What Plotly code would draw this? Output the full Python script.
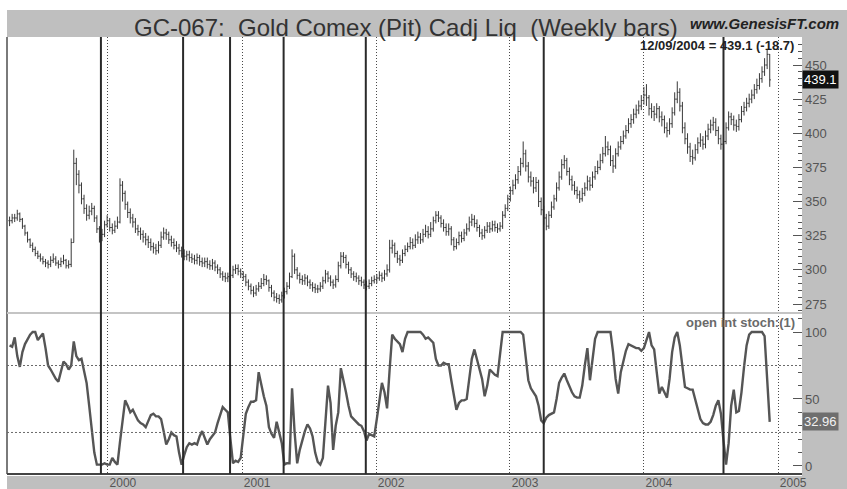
import pandas as pd
import plotly.graph_objects as go
from plotly.subplots import make_subplots

# ---------------- data ----------------
last_date = "2004-12-09"

price_high = [
    339, 341, 341, 344, 342, 338, 333, 328, 323, 320,
    317, 314, 312, 310, 308, 307, 310, 312, 310, 307,
    309, 311, 308, 307, 323, 388, 382, 373, 364, 355,
    348, 347, 349, 347, 340, 332, 330, 336, 340, 338,
    334, 336, 339, 367, 365, 358, 350, 345, 341, 338,
    333, 331, 329, 327, 325, 323, 320, 319, 321, 328,
    331, 330, 328, 325, 323, 321, 319, 317, 315, 314,
    314, 312, 311, 312, 311, 309, 309, 309, 307, 308,
    307, 304, 302, 299, 298, 298, 299, 303, 304, 304,
    301, 299, 297, 293, 290, 288, 289, 291, 294, 297,
    296, 293, 289, 285, 283, 282, 284, 287, 291, 298,
    315, 312, 302, 298, 296, 297, 296, 293, 291, 290,
    289, 291, 295, 300, 299, 296, 293, 296, 306, 313,
    313, 311, 306, 302, 299, 298, 296, 295, 293, 292,
    293, 295, 296, 297, 299, 298, 300, 304, 322, 322,
    320, 314, 311, 315, 318, 320, 324, 323, 326, 328,
    327, 330, 333, 332, 335, 339, 343, 343, 340, 337,
    334, 334, 332, 324, 323, 328, 328, 330, 334, 339,
    341, 340, 337, 333, 330, 332, 335, 335, 336, 336,
    334, 335, 343, 348, 355, 361, 366, 370, 376, 382,
    394, 388, 379, 372, 368, 368, 366, 353, 347, 341,
    343, 350, 355, 364, 372, 381, 384, 382, 375, 369,
    365, 361, 358, 360, 364, 369, 368, 372, 376, 380,
    385, 390, 398, 394, 391, 384, 389, 394, 398, 402,
    406, 411, 414, 418, 421, 424, 428, 434, 436, 428,
    422, 420, 422, 420, 416, 413, 408, 411, 419, 430,
    438, 433, 423, 408, 400, 393, 388, 392, 397, 400,
    398, 402, 407, 410, 412, 411, 405, 399, 398, 408,
    416, 415, 413, 410, 414, 420, 423, 426, 429, 432,
    436, 440, 444, 449, 455, 461, 458,
]

price_low = [
    332, 334, 335, 336, 335, 330, 325, 320, 316, 313,
    310, 308, 306, 304, 302, 301, 302, 305, 303, 301,
    302, 304, 301, 301, 302, 320, 362, 356, 348, 341,
    336, 337, 340, 335, 327, 320, 321, 324, 331, 328,
    326, 327, 330, 334, 350, 344, 338, 334, 331, 327,
    325, 322, 320, 318, 316, 314, 312, 311, 312, 316,
    322, 322, 319, 317, 315, 313, 311, 309, 307, 307,
    306, 305, 304, 304, 303, 302, 302, 301, 300, 300,
    299, 297, 294, 292, 291, 291, 292, 294, 297, 296,
    294, 292, 288, 285, 282, 280, 281, 284, 286, 288,
    289, 284, 280, 277, 276, 275, 276, 279, 282, 286,
    294, 297, 293, 290, 289, 289, 288, 286, 284, 283,
    283, 284, 286, 290, 291, 288, 286, 287, 291, 301,
    305, 301, 297, 294, 292, 291, 289, 288, 286, 285,
    286, 288, 290, 290, 292, 291, 292, 295, 298, 312,
    309, 305, 303, 305, 310, 313, 315, 315, 316, 319,
    319, 320, 324, 323, 324, 328, 334, 335, 331, 328,
    325, 325, 318, 314, 315, 318, 320, 321, 325, 328,
    332, 331, 328, 324, 322, 323, 327, 327, 328, 328,
    327, 328, 330, 338, 343, 350, 355, 359, 363, 369,
    375, 372, 364, 361, 356, 357, 346, 340, 333, 329,
    330, 338, 344, 350, 358, 366, 374, 369, 362, 358,
    355, 352, 349, 350, 354, 358, 358, 360, 366, 370,
    373, 378, 383, 384, 376, 371, 374, 383, 388, 392,
    396, 400, 404, 407, 411, 414, 417, 421, 420, 413,
    411, 409, 411, 408, 405, 400, 397, 399, 404, 413,
    422, 416, 400, 392, 385, 379, 377, 380, 385, 390,
    388, 389, 395, 400, 402, 398, 392, 388, 389, 392,
    402, 406, 402, 401, 402, 408, 413, 416, 419, 422,
    425, 429, 432, 437, 442, 447, 434,
]

price_close = [
    336, 338, 338, 341, 337, 332, 327, 322, 318, 315,
    312, 310, 308, 306, 305, 304, 307, 308, 305, 304,
    306, 307, 303, 304, 320, 378, 370, 362, 352, 345,
    340, 343, 345, 338, 330, 324, 326, 333, 336, 331,
    329, 332, 335, 362, 356, 348, 342, 338, 335, 330,
    328, 326, 324, 322, 320, 317, 316, 314, 318, 324,
    327, 326, 322, 320, 318, 316, 314, 312, 310, 311,
    309, 308, 307, 309, 306, 305, 306, 304, 303, 305,
    302, 300, 297, 295, 294, 295, 296, 300, 301, 299,
    297, 295, 291, 288, 285, 283, 286, 288, 290, 293,
    292, 287, 283, 280, 279, 278, 281, 284, 288, 295,
    310, 300, 296, 293, 292, 294, 291, 289, 287, 286,
    286, 288, 292, 297, 294, 291, 289, 293, 303, 310,
    309, 304, 300, 297, 295, 294, 292, 291, 289, 288,
    290, 292, 293, 294, 296, 294, 297, 300, 316, 318,
    312, 308, 307, 312, 315, 317, 320, 318, 322, 324,
    322, 326, 328, 326, 330, 336, 340, 338, 334, 331,
    328, 330, 322, 317, 320, 325, 323, 327, 330, 335,
    337, 334, 331, 327, 325, 329, 332, 330, 333, 331,
    330, 332, 340, 345, 352, 358, 362, 366, 372, 378,
    385, 376, 368, 365, 360, 364, 350, 344, 338, 332,
    340, 346, 352, 360, 368, 377, 380, 372, 366, 362,
    358, 355, 352, 356, 360, 365, 362, 368, 372, 375,
    380, 385, 390, 388, 380, 376, 385, 390, 394, 398,
    402, 407, 410, 414, 417, 420, 424, 428, 426, 418,
    416, 414, 418, 412, 410, 404, 402, 407, 415, 425,
    430, 420, 404, 396, 390, 383, 382, 388, 393, 395,
    392, 398, 403, 406, 408, 402, 396, 392, 394, 404,
    412, 410, 406, 405, 410, 416, 419, 422, 425, 428,
    432, 435, 440, 445, 450, 457.8, 439.1,
]

stoch = [
    90, 89, 96, 82, 74, 85, 91, 95, 98, 100,
    100, 94, 97, 99, 88, 75, 72, 68, 65, 63,
    70, 78, 76, 72, 75, 93, 82, 79, 80, 72,
    62, 45, 25, 10, 1, 1, 1, 2, 1, 1,
    6, 3, 1, 18, 34, 49, 45, 40, 42, 38,
    34, 32, 31, 29, 33, 38, 39, 37, 37, 35,
    26, 16, 20, 25, 23, 22, 10, 1, 8, 14,
    17, 16, 17, 16, 22, 26, 21, 16, 20, 23,
    25, 32, 38, 44, 42, 40, 20, 2, 4, 3,
    6, 25, 39, 44, 48, 48, 49, 70, 60, 52,
    45, 29, 24, 21, 33, 25, 17, 1, 2, 2,
    58, 25, 2, 12, 20, 26, 31, 28, 22, 10,
    3, 1, 6, 35, 60, 47, 12, 30, 40, 73,
    65, 55, 45, 37, 35, 33, 31, 30, 26, 19,
    24, 23, 22, 35, 50, 62, 55, 43, 72, 98,
    95, 93, 91, 85, 95, 100, 100, 100, 100, 100,
    100, 98, 95, 96, 94, 92, 80, 75, 75, 77,
    76, 76, 64, 52, 42, 47, 49, 49, 50, 65,
    80, 87, 80, 74, 65, 52, 60, 72, 70, 68,
    67, 85, 100, 100, 100, 100, 100, 100, 100, 100,
    98, 82, 64, 58, 55, 52, 45, 34, 32, 36,
    38, 39, 40, 50, 62, 66, 69, 64, 59, 55,
    52, 51, 51, 60, 75, 88, 64, 80, 95, 100,
    100, 100, 100, 100, 100, 85, 65, 54, 70, 78,
    86, 91, 90, 89, 88, 88, 86, 88, 95, 100,
    90, 87, 70, 54, 59, 55, 51, 65, 85, 96,
    100, 90, 75, 59, 58, 57, 57, 50, 42, 35,
    32, 31, 31, 33, 38, 45, 49, 39, 19, 1,
    17, 45, 57, 40, 41, 55, 74, 90, 98, 100,
    100, 100, 100, 100, 97, 64, 32.96,
]

event_dates = ["1999-12-13", "2000-07-24", "2000-11-29", "2001-04-24",
               "2001-12-04", "2003-04-03", "2004-08-05"]
stoch_levels = [25, 75]

title_text = "GC-067:\u00a0\u00a0Gold Comex (Pit) Cadj Liq\u00a0\u00a0(Weekly bars)"
site_text = "www.GenesisFT.com"
stoch_name = "open int stoch:(1)"

# ---------------- build ----------------
n = len(price_close)
dates = pd.date_range(end=last_date, periods=n, freq="7D")
price_open = [price_close[0]] + price_close[:-1]

FONT = "Liberation Sans, Arial, sans-serif"
GRAY_BAND = "#bfbfbf"
TICK_COL = "#555555"

fig = make_subplots(rows=2, cols=1, shared_xaxes=True, vertical_spacing=0,
                    row_heights=[0.6316, 0.3684])

fig.add_trace(go.Ohlc(x=dates, open=price_open, high=price_high, low=price_low,
                      close=price_close, tickwidth=0.45,
                      increasing=dict(line=dict(color="#383838", width=1)),
                      decreasing=dict(line=dict(color="#383838", width=1)),
                      showlegend=False, hoverinfo="skip"), row=1, col=1)

fig.add_trace(go.Scatter(x=dates, y=stoch, mode="lines",
                         line=dict(color="#555555", width=2.4),
                         showlegend=False, hoverinfo="skip"), row=2, col=1)

xr = ["1999-04-01", "2005-03-07"]
xcommon = dict(range=xr, showgrid=True, gridcolor="#4a4a4a", gridwidth=1,
               griddash="1px,2px", dtick="M12", tick0="2000-01-01",
               zeroline=False, showline=False, ticks="", automargin=False,
               rangeslider=dict(visible=False))
fig.update_xaxes(**xcommon)
fig.update_xaxes(showticklabels=False, row=1, col=1)
fig.update_xaxes(showticklabels=True, tickformat="%Y",
                 tickfont=dict(family=FONT, size=12, color=TICK_COL),
                 ticklabelshift=15, ticklabelstandoff=0, row=2, col=1)

ycommon = dict(side="right", showgrid=False, zeroline=False, showline=False,
               ticks="inside", ticklen=9, tickwidth=1, tickcolor=TICK_COL,
               tickfont=dict(family=FONT, size=13, color=TICK_COL),
               ticklabelstandoff=2, automargin=False)
fig.update_yaxes(**ycommon)
fig.update_yaxes(range=[268.4, 470.5], dtick=25, tick0=0,
                 minor=dict(dtick=5, ticks="inside", ticklen=4,
                            tickcolor=TICK_COL, showgrid=False),
                 row=1, col=1)
fig.update_yaxes(range=[-6, 114.2], dtick=50, tick0=0,
                 minor=dict(dtick=10, ticks="inside", ticklen=4,
                            tickcolor=TICK_COL, showgrid=False),
                 row=2, col=1)

W, H = 847, 489
ml, mr, mt, mb = 7, 45, 37, 15
pw, ph = W - ml - mr, H - mt - mb


def px_x(px):
    return (px - ml) / pw


def px_y(py):
    return (H - mb - py) / ph


shapes = []
# gray frame pieces outside the plot area
shapes.append(dict(type="rect", xref="paper", yref="paper", layer="below",
                   x0=0, x1=px_x(W + 2), y0=1, y1=px_y(10),
                   fillcolor=GRAY_BAND, line=dict(width=0)))
shapes.append(dict(type="rect", xref="paper", yref="paper", layer="below",
                   x0=1, x1=px_x(W + 2), y0=px_y(H + 2), y1=1,
                   fillcolor=GRAY_BAND, line=dict(width=0)))
shapes.append(dict(type="rect", xref="paper", yref="paper", layer="below",
                   x0=0, x1=1, y0=px_y(H + 2), y1=px_y(476),
                   fillcolor=GRAY_BAND, line=dict(width=0)))
# borders
shapes.append(dict(type="line", xref="paper", yref="paper", x0=0, x1=0, y0=0, y1=1,
                   line=dict(color="#7a7a7a", width=2)))
shapes.append(dict(type="line", xref="paper", yref="paper", x0=0, x1=1, y0=0, y1=0,
                   line=dict(color="#444444", width=2)))
shapes.append(dict(type="line", xref="paper", yref="paper", x0=0, x1=1,
                   y0=0.3684, y1=0.3684, line=dict(color="#c4c4c4", width=2)))
# stochastic level lines
for lv in stoch_levels:
    shapes.append(dict(type="line", xref="x2 domain", yref="y2", x0=0, x1=1,
                       y0=lv, y1=lv, line=dict(color="#6a6a6a", width=1, dash="2px,2px")))
# event lines
for d in event_dates:
    shapes.append(dict(type="line", xref="x", yref="paper", x0=d, x1=d, y0=0, y1=1,
                       line=dict(color="#2a2a2a", width=2), layer="above"))

last_close = price_close[-1]
change = price_close[-1] - price_close[-2]
last_dt = pd.Timestamp(last_date)

annotations = [
    dict(text=title_text, xref="paper", yref="paper", x=px_x(132), y=px_y(27.5),
         xanchor="left", yanchor="middle", showarrow=False,
         font=dict(family=FONT, size=24, color="#333333")),
    dict(text=f"<b><i>{site_text}</i></b>", xref="paper", yref="paper",
         x=px_x(841), y=px_y(23), xanchor="right", yanchor="middle", showarrow=False,
         font=dict(family=FONT, size=15, color="#222222")),
    dict(text=f"<b>{last_dt.strftime('%m/%d/%Y')} = {last_close:.1f} ({change:.1f})</b>",
         xref="paper", yref="paper", x=px_x(796), y=px_y(45),
         xanchor="right", yanchor="middle", showarrow=False,
         font=dict(family=FONT, size=13, color="#222222")),
    dict(text=f"{last_close:.1f}", xref="paper", yref="y", x=1.0, y=last_close,
         xanchor="left", yanchor="middle", showarrow=False, bgcolor="#111111",
         borderpad=1, font=dict(family=FONT, size=13, color="#ffffff")),
    dict(text=f"{stoch[-1]:.2f}", xref="paper", yref="y2", x=1.0, y=stoch[-1],
         xanchor="left", yanchor="middle", showarrow=False, bgcolor="#6e6e6e",
         borderpad=1, font=dict(family=FONT, size=13, color="#f2f2f2")),
    dict(text=f"<b>{stoch_name}</b>", xref="paper", yref="paper",
         x=px_x(797), y=px_y(322), xanchor="right", yanchor="middle", showarrow=False,
         font=dict(family=FONT, size=13, color="#6a6a6a")),
]

fig.update_layout(width=W, height=H, margin=dict(l=ml, r=mr, t=mt, b=mb),
                  paper_bgcolor="#ffffff", plot_bgcolor="#ffffff",
                  shapes=shapes, annotations=annotations, showlegend=False,
                  font=dict(family=FONT))

fig.write_html("out.html", config={"displayModeBar": False},
               post_script="document.body.style.margin='0px';document.body.style.overflow='hidden';")
